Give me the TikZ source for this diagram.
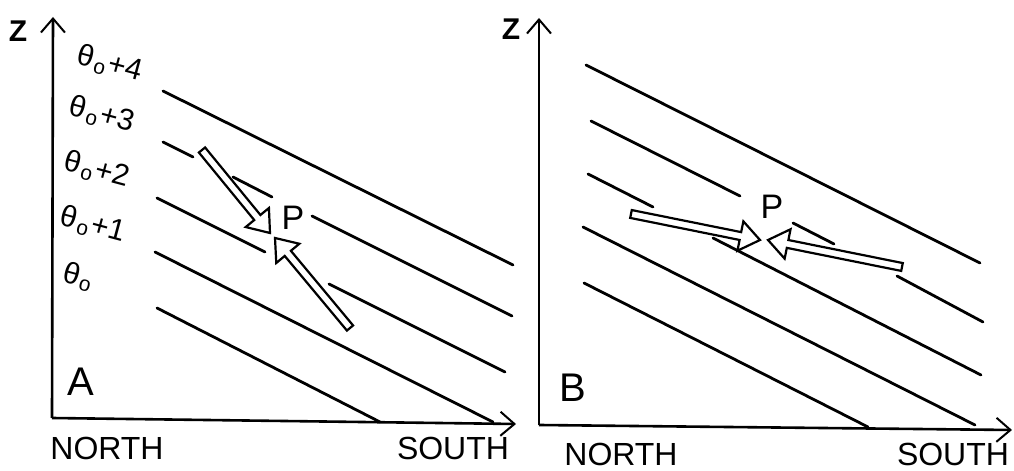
\documentclass[tikz,border=0pt]{standalone}
\usepackage{fontspec}
\setmainfont{Liberation Sans}
\usetikzlibrary{calc,arrows.meta}

% open (outlined) flow arrow from #1 (tail) to #2 (tip)
\newcommand{\hollowarrow}[2]{%
  \coordinate (neck) at ($(#2)!10pt!(#1)$);
  \draw[flow] ($(#1)!2pt!90:(#2)$) -- ($(neck)!2pt!90:(#2)$)
    -- ($(neck)!7.5pt!90:(#2)$) -- (#2) -- ($(neck)!7.5pt!-90:(#2)$)
    -- ($(neck)!2pt!-90:(#2)$) -- ($(#1)!2pt!-90:(#2)$) -- cycle;}
\newcommand{\thnull}{θ\kern0.8pt\textsubscript{o}\kern0.8pt}

\begin{document}
\begin{tikzpicture}[x=0.5pt, y=0.5pt,
  font=\fontsize{16}{18}\selectfont,
  axis/.style={line width=1.3pt, -{Straight Barb[length=7pt,width=12pt,line width=1pt]}},
  iso/.style={line width=1.4pt, line cap=round},
  flow/.style={line width=1.1pt, line join=miter, fill=white},
  lbl/.style={inner sep=0pt},
  theta/.style={lbl, rotate=-15, anchor=center, font=\fontsize{15}{16}\selectfont}
]
\useasboundingbox (0,0) rectangle (1014,471);

% panel A: axes
\coordinate (oA) at (52,53);
\coordinate (topA) at (53,454);
\coordinate (endA) at (516,47);
\draw[axis] (oA) -- (topA);
\draw[axis] (oA) -- (endA);
\node[lbl, font=\fontsize{15}{16}\selectfont\bfseries] (zA) at (18,440) {Z};
\node[lbl] (northA) at (107,23) {NORTH};
\node[lbl] (southA) at (453,23) {SOUTH};
\node[lbl, font=\fontsize{20}{22}\selectfont] (labA) at (81,89) {A};

% isentropes
\draw[iso] (163,380) -- (513,206);
\draw[iso] (163,329) -- (193,314);
\draw[iso] (233,294) -- (272,274);
\draw[iso] (312,255) -- (512,155);
\draw[iso] (157,273) -- (265,219);
\draw[iso] (329,187) -- (505,99);
\draw[iso] (155,219) -- (493,49);
\draw[iso] (157,163) -- (380,49);

\node[theta] (th4) at (110,407) {\thnull+4};
\node[theta] (th3) at (102,356) {\thnull+3};
\node[theta] (th2) at (97,301) {\thnull+2};
\node[theta] (th1) at (93,246) {\thnull+1};
\node[theta] (th0) at (79,194) {\thnull};

% flow towards P
\node[lbl, font=\fontsize{17}{19}\selectfont] (PA) at (293,253) {P};
\coordinate (tailA1) at (202,321);
\coordinate (tipA1) at (270,238);
\coordinate (tailA2) at (350,143);
\coordinate (tipA2) at (275,233);
\hollowarrow{tailA1}{tipA1}
\hollowarrow{tailA2}{tipA2}

% panel B: axes
\coordinate (oB) at (539,46);
\coordinate (topB) at (539,453);
\coordinate (endB) at (1012,41);
\draw[axis] (oB) -- (topB);
\draw[axis] (oB) -- (endB);
\node[lbl, font=\fontsize{15}{16}\selectfont\bfseries] (zB) at (511,442) {Z};
\node[lbl] (northB) at (621,17) {NORTH};
\node[lbl] (southB) at (953,17) {SOUTH};
\node[lbl, font=\fontsize{20}{22}\selectfont] (labB) at (573,83) {B};

% isentropes
\draw[iso] (586,406) -- (980,208);
\draw[iso] (591,350) -- (740,275);
\draw[iso] (793,248) -- (834,227);
\draw[iso] (897,195) -- (983,149);
\draw[iso] (588,297) -- (653,264);
\draw[iso] (713,233) -- (981,96);
\draw[iso] (583,244) -- (975,46);
\draw[iso] (584,188) -- (868,44);

% flow towards P
\node[lbl, font=\fontsize{17}{19}\selectfont] (PB) at (772,264) {P};
\coordinate (tailB1) at (631,257);
\coordinate (tipB1) at (760,231);
\coordinate (tailB2) at (902,204);
\coordinate (tipB2) at (768,231);
\hollowarrow{tailB1}{tipB1}
\hollowarrow{tailB2}{tipB2}
\end{tikzpicture}
\end{document}
